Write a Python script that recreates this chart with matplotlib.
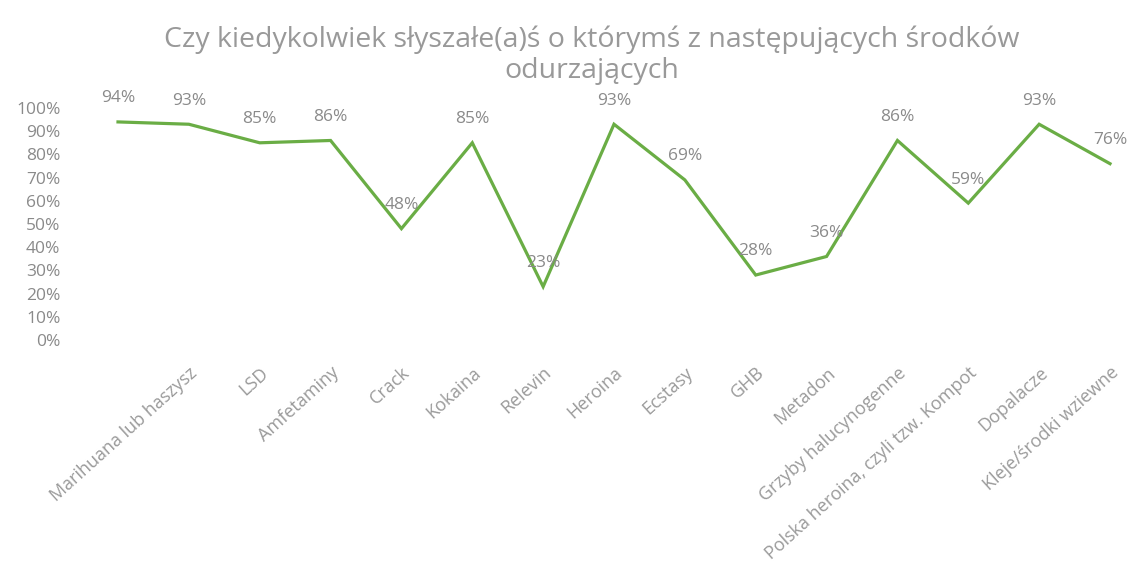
import numpy as np
import matplotlib
matplotlib.use("Agg")
import matplotlib.pyplot as plt
from matplotlib.ticker import PercentFormatter

plt.rcParams['font.family'] = ['Open Sans', 'DejaVu Sans']

categories = ["", "Marihuana lub haszysz", "LSD", "Amfetaminy", "Crack", "Kokaina",
              "Relevin", "Heroina", "Ecstasy", "GHB", "Metadon",
              "Grzyby halucynogenne", "Polska heroina, czyli tzw. Kompot",
              "Dopalacze", "Kleje/środki wziewne"]
values = [94, 93, 85, 86, 48, 85, 23, 93, 69, 28, 36, 86, 59, 93, 76]
title = "Czy kiedykolwiek słyszałe(a)ś o którymś z następujących środków\nodurzających"

W, H = 1141, 576
fig = plt.figure(figsize=(W / 100, H / 100), dpi=100)

# axes placed in pixel terms: x=0 -> 118px, x=14 -> 1110px, y 0% -> 340px, 100% -> 108px
step = (1110 - 118) / 14
x0, x1 = -0.5, 14.4
left = 118 + x0 * step
right = 1110 + (x1 - 14) * step
ax = fig.add_axes([left / W, (H - 340) / H, (right - left) / W, (340 - 108) / H])

x = np.arange(len(values))
ax.plot(x, values, color='#6aad45', lw=2.3, solid_joinstyle='miter')

for xi, v in zip(x, values):
    ax.annotate(f"{v}%", (xi, v), xytext=(0, 17), textcoords='offset points',
                ha='center', va='center', fontsize=12.5, color='#8a8a8a')

ax.set_xlim(x0, x1)
ax.set_ylim(0, 100)
ax.set_yticks(np.arange(0, 101, 10))
ax.yaxis.set_major_formatter(PercentFormatter(decimals=0))
ax.set_xticks(x)
ax.set_xticklabels(categories, rotation=42, ha='right', rotation_mode='anchor',
                   fontsize=13, color='#9a9a9a')
ax.tick_params(axis='x', length=0, pad=17)
ax.tick_params(axis='y', length=0, labelsize=12.5, labelcolor='#8a8a8a', pad=16)
for s in ax.spines.values():
    s.set_visible(False)

fig.text(592 / W, 1 - 55 / H, title, ha='center', va='center', fontsize=20.5,
         color='#999999', linespacing=1.15)

fig.savefig("out.png", dpi=100)
